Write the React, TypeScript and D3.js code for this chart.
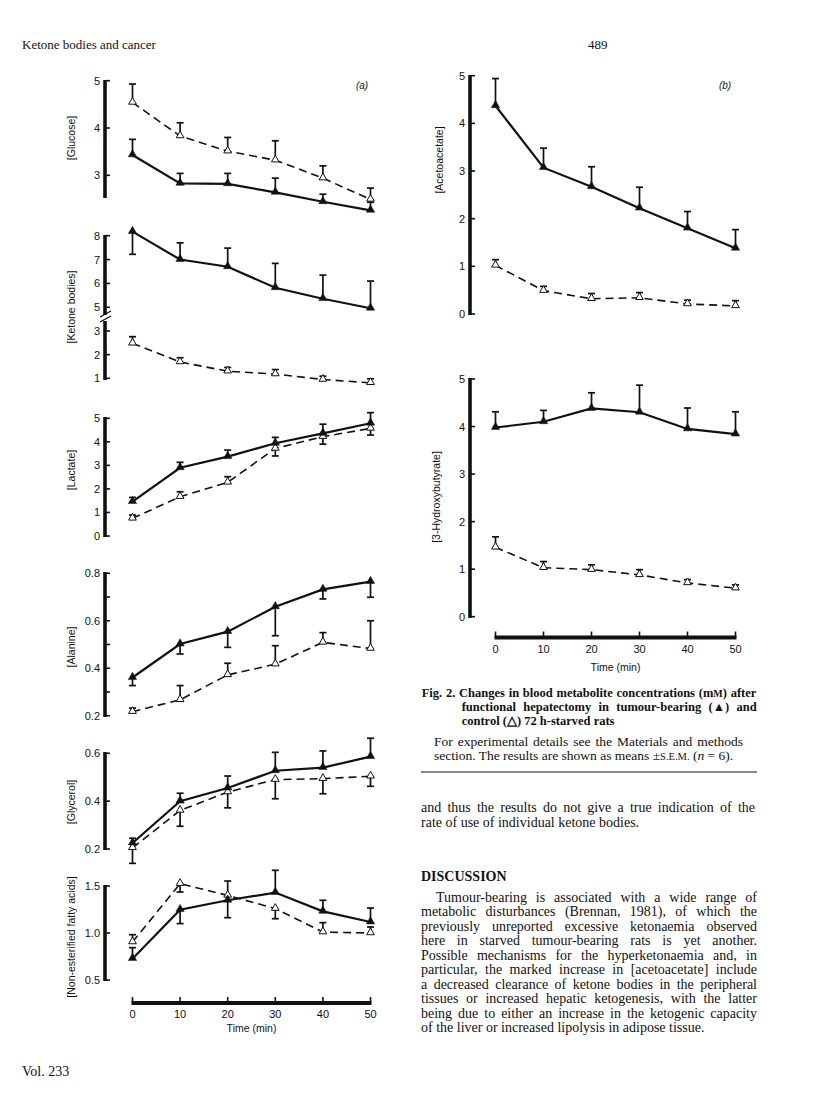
import React from "react";
import * as d3 from "d3";

const time = [0, 10, 20, 30, 40, 50];
const xTickLabels = ["0", "10", "20", "30", "40", "50"];

// (a) panels — tumour-bearing (filled) and control (open); sem with bar direction (+1 up, -1 down)
const glucoseTumour = [3.43, 2.83, 2.82, 2.64, 2.44, 2.26];
const glucoseTumourSem = [0.33, 0.21, 0.22, 0.3, 0.16, 0.17];
const glucoseTumourDir = [1, 1, 1, 1, 1, 1];
const glucoseControl = [4.54, 3.83, 3.51, 3.32, 2.94, 2.49];
const glucoseControlSem = [0.39, 0.28, 0.29, 0.41, 0.26, 0.24];
const glucoseControlDir = [1, 1, 1, 1, 1, 1];
const glucoseTicks = [5, 4, 3];

const ketoneTumour = [8.17, 7.0, 6.7, 5.82, 5.36, 4.96];
const ketoneTumourSem = [0.95, 0.7, 0.78, 1.02, 0.99, 1.14];
const ketoneTumourDir = [-1, 1, 1, 1, 1, 1];
const ketoneControl = [2.48, 1.69, 1.3, 1.18, 0.95, 0.81];
const ketoneControlSem = [0.28, 0.18, 0.16, 0.19, 0.14, 0.17];
const ketoneControlDir = [1, 1, 1, 1, 1, 1];
const ketoneTicksUpper = [8, 7, 6, 5];
const ketoneTicksLower = [3, 2, 1];

const lactateTumour = [1.46, 2.9, 3.37, 3.94, 4.36, 4.79];
const lactateTumourSem = [0.18, 0.23, 0.28, 0.25, 0.39, 0.45];
const lactateTumourDir = [1, 1, 1, 1, 1, 1];
const lactateControl = [0.75, 1.67, 2.28, 3.72, 4.22, 4.57];
const lactateControlSem = [0.14, 0.21, 0.24, 0.32, 0.32, 0.28];
const lactateControlDir = [1, 1, 1, -1, -1, -1];
const lactateTicks = [5, 4, 3, 2, 1, 0];

const alanineTumour = [0.361, 0.502, 0.554, 0.659, 0.732, 0.765];
const alanineTumourSem = [0.034, 0.042, 0.066, 0.122, 0.04, 0.066];
const alanineTumourDir = [-1, -1, -1, -1, -1, -1];
const alanineControl = [0.217, 0.267, 0.372, 0.417, 0.509, 0.483];
const alanineControlSem = [0.015, 0.06, 0.049, 0.078, 0.041, 0.117];
const alanineControlDir = [1, 1, 1, 1, 1, 1];
const alanineTicks = [0.8, 0.6, 0.4, 0.2];
const alanineMinorTicks = [0.7, 0.5, 0.3];

const glycerolTumour = [0.225, 0.4, 0.455, 0.527, 0.54, 0.586];
const glycerolTumourSem = [0.02, 0.033, 0.05, 0.077, 0.07, 0.077];
const glycerolTumourDir = [1, 1, 1, 1, 1, 1];
const glycerolControl = [0.205, 0.361, 0.438, 0.49, 0.494, 0.504];
const glycerolControlSem = [0.065, 0.066, 0.066, 0.08, 0.063, 0.042];
const glycerolControlDir = [-1, -1, -1, -1, -1, -1];
const glycerolTicks = [0.6, 0.4, 0.2];

const nefaTumour = [0.727, 1.248, 1.348, 1.43, 1.23, 1.117];
const nefaTumourSem = [0.117, 0.148, 0.185, 0.237, 0.118, 0.149];
const nefaTumourDir = [1, -1, -1, 1, 1, 1];
const nefaControl = [0.904, 1.525, 1.4, 1.26, 1.01, 1.0];
const nefaControlSem = [0.078, 0.089, 0.153, 0.108, 0.1, 0.064];
const nefaControlDir = [1, -1, 1, -1, 1, 1];
const nefaTicks = [1.5, 1.0, 0.5];

// (b) panels
const acacTumour = [4.37, 3.07, 2.67, 2.22, 1.8, 1.38];
const acacTumourSem = [0.57, 0.41, 0.42, 0.44, 0.35, 0.39];
const acacTumourDir = [1, 1, 1, 1, 1, 1];
const acacControl = [1.02, 0.49, 0.32, 0.34, 0.21, 0.17];
const acacControlSem = [0.12, 0.09, 0.11, 0.11, 0.08, 0.11];
const acacControlDir = [1, 1, 1, 1, 1, 1];
const acacTicks = [5, 4, 3, 2, 1, 0];

const hbTumour = [3.98, 4.1, 4.38, 4.3, 3.95, 3.84];
const hbTumourSem = [0.33, 0.24, 0.33, 0.57, 0.44, 0.47];
const hbTumourDir = [1, 1, 1, 1, 1, 1];
const hbControl = [1.46, 1.03, 0.99, 0.88, 0.71, 0.6];
const hbControlSem = [0.22, 0.13, 0.1, 0.11, 0.07, 0.07];
const hbControlDir = [1, 1, 1, 1, 1, 1];
const hbTicks = [5, 4, 3, 2, 1, 0];

const bodyLines = [
  "metabolic disturbances (Brennan, 1981), of which the",
  "previously unreported excessive ketonaemia observed",
  "here in starved tumour-bearing rats is yet another.",
  "Possible mechanisms for the hyperketonaemia and, in",
  "particular, the marked increase in [acetoacetate] include",
  "a decreased clearance of ketone bodies in the peripheral",
  "tissues or increased hepatic ketogenesis, with the latter",
  "being due to either an increase in the ketogenic capacity",
];

const SANS = "'Liberation Sans', Arial, sans-serif";
const SERIF = "'Liberation Serif', 'Times New Roman', serif";
const INK = "#111";
const BODY = 14;
const CAP = 12.5;

let measureCtx = null;
function wordGap(text, font, target) {
  if (typeof document === "undefined") return 0;
  if (!measureCtx) measureCtx = document.createElement("canvas").getContext("2d");
  measureCtx.font = font;
  const w = measureCtx.measureText(text).width;
  const n = (text.match(/ /g) || []).length;
  if (!n) return 0;
  return Math.max(-0.5, (target - w) / n);
}

const triFilled = d3.symbol().type(d3.symbolTriangle).size(30)();
const triOpen = d3.symbol().type(d3.symbolTriangle).size(26)();

function Series({ x, y, values, sem, dir, filled }) {
  const line = d3
    .line()
    .x((d, i) => x(time[i]))
    .y((d) => y(d));
  return (
    <g>
      <path
        d={line(values)}
        fill="none"
        stroke={INK}
        strokeWidth={filled ? 2.2 : 1.6}
        strokeDasharray={filled ? undefined : "8,5"}
      />
      {values.map((v, i) => {
        const cx = x(time[i]);
        const cy = y(v);
        const ey = y(v + dir[i] * sem[i]);
        return (
          <g key={i}>
            <line x1={cx} x2={cx} y1={cy} y2={ey} stroke={INK} strokeWidth={1.7} />
            <line x1={cx - 3.5} x2={cx + 3.5} y1={ey} y2={ey} stroke={INK} strokeWidth={1.7} />
            <path
              d={filled ? triFilled : triOpen}
              transform={`translate(${cx},${cy - 0.5})`}
              fill={filled ? INK : "#fff"}
              stroke={INK}
              strokeWidth={filled ? 0.5 : 1}
            />
          </g>
        );
      })}
    </g>
  );
}

function YAxis({ axisX, y, ticks, minor = [], top, bottom, fmt, label, labelX, labelY }) {
  return (
    <g>
      <line x1={axisX} x2={axisX} y1={top} y2={bottom} stroke={INK} strokeWidth={3.6} />
      {ticks.map((t) => (
        <g key={"t" + t}>
          <line x1={axisX} x2={axisX + 5} y1={y(t)} y2={y(t)} stroke={INK} strokeWidth={1.6} />
          <text x={axisX - 5} y={y(t) + 4} textAnchor="end" fontFamily={SANS} fontSize={11} fill={INK}>
            {fmt(t)}
          </text>
        </g>
      ))}
      {minor.map((t) => (
        <line key={"m" + t} x1={axisX} x2={axisX + 5} y1={y(t)} y2={y(t)} stroke={INK} strokeWidth={1.6} />
      ))}
      <text
        transform={`translate(${labelX},${labelY}) rotate(-90)`}
        textAnchor="middle"
        fontFamily={SANS}
        fontSize={10.5}
        fill={INK}
      >
        {label}
      </text>
    </g>
  );
}

function XAxis({ x, yPos, labelY, titleY }) {
  const [x0, x1] = [x(time[0]), x(time[time.length - 1])];
  return (
    <g>
      <line x1={x0 - 1} x2={x1 + 1} y1={yPos} y2={yPos} stroke={INK} strokeWidth={4} />
      {time.map((t, i) => (
        <g key={t}>
          <line x1={x(t)} x2={x(t)} y1={yPos} y2={yPos - 6} stroke={INK} strokeWidth={1.6} />
          <text x={x(t)} y={labelY} textAnchor="middle" fontFamily={SANS} fontSize={11} fill={INK}>
            {xTickLabels[i]}
          </text>
        </g>
      ))}
      <text x={(x0 + x1) / 2} y={titleY} textAnchor="middle" fontFamily={SANS} fontSize={10.5} fill={INK}>
        Time (min)
      </text>
    </g>
  );
}

function JText({ x, y, target, text, bold = false, size = BODY }) {
  const font = `${bold ? "bold " : ""}${size}px 'Liberation Serif'`;
  const gap = wordGap(text, font, target);
  return (
    <text x={x} y={y} fontSize={size} fontWeight={bold ? "bold" : "normal"} wordSpacing={gap}>
      {text}
    </text>
  );
}

const fmtInt = (d) => d3.format("d")(d);
const fmt1 = (d) => d3.format(".1f")(d);

export default function App() {
  // panel (a)
  const xa = d3.scaleLinear().domain([0, 50]).range([132.5, 370.5]);
  const axA = 105;
  const labA = 75;

  const yGlu = d3.scaleLinear().domain([3, 5]).range([175.3, 80.7]);
  const kUp = d3.scaleLinear().domain([5, 8]).range([307.3, 235.7]);
  const kLo = d3.scaleLinear().domain([1, 3]).range([378.3, 331]);
  const yKet = (v) => (v >= 4 ? kUp(v) : kLo(v));
  const yLac = d3.scaleLinear().domain([0, 5]).range([536, 418.3]);
  const yAla = d3.scaleLinear().domain([0.2, 0.8]).range([715.7, 573.3]);
  const yGly = d3.scaleLinear().domain([0.2, 0.6]).range([849, 753.3]);
  const yNefa = d3.scaleLinear().domain([0.5, 1.5]).range([980, 886]);

  // panel (b)
  const xb = d3.scaleLinear().domain([0, 50]).range([495.5, 735.5]);
  const axB = 470;
  const yAcac = d3.scaleLinear().domain([0, 5]).range([314, 75.7]);
  const yHb = d3.scaleLinear().domain([0, 5]).range([616.7, 379]);

  const capFont = `bold ${CAP}px 'Liberation Serif'`;
  const cap1 = "Fig. 2. Changes in blood metabolite concentrations (mM) after";
  const cap1Gap = wordGap(cap1, capFont, 337);
  const cap2 = "functional hepatectomy in tumour-bearing (▲) and";
  const cap2Gap = wordGap(cap2, capFont, 295);

  return (
    <svg
      width={816}
      height={1097}
      viewBox="0 0 816 1097"
      style={{ position: "absolute", left: 0, top: 0, background: "#fff" }}
    >
      <rect x={0} y={0} width={816} height={1097} fill="#fff" />
      {/* page header / footer */}
      <text x={22} y={49} fontFamily={SERIF} fontSize={13} fill={INK}>
        Ketone bodies and cancer
      </text>
      <text x={588} y={49} fontFamily={SERIF} fontSize={13} fill={INK}>
        489
      </text>
      <text x={22} y={1076} fontFamily={SERIF} fontSize={14} fill={INK}>
        Vol. 233
      </text>

      {/* (a) */}
      <text x={362} y={89} textAnchor="middle" fontFamily={SANS} fontSize={10} fontStyle="italic" fill={INK}>
        (a)
      </text>

      <YAxis axisX={axA} y={yGlu} ticks={glucoseTicks} top={80} bottom={198} fmt={fmtInt} label="[Glucose]" labelX={labA} labelY={138} />
      <Series x={xa} y={yGlu} values={glucoseControl} sem={glucoseControlSem} dir={glucoseControlDir} filled={false} />
      <Series x={xa} y={yGlu} values={glucoseTumour} sem={glucoseTumourSem} dir={glucoseTumourDir} filled={true} />

      {/* ketone bodies with broken axis */}
      <line x1={axA} x2={axA} y1={235} y2={315} stroke={INK} strokeWidth={3.6} />
      <line x1={axA} x2={axA} y1={321} y2={380} stroke={INK} strokeWidth={3.6} />
      <line x1={100} x2={111} y1={317} y2={311} stroke={INK} strokeWidth={1.3} />
      <line x1={100} x2={111} y1={322} y2={316} stroke={INK} strokeWidth={1.3} />
      {ketoneTicksUpper.map((t) => (
        <g key={"ku" + t}>
          <line x1={axA} x2={axA + 5} y1={kUp(t)} y2={kUp(t)} stroke={INK} strokeWidth={1.6} />
          <text x={axA - 5} y={kUp(t) + 4} textAnchor="end" fontFamily={SANS} fontSize={11} fill={INK}>
            {fmtInt(t)}
          </text>
        </g>
      ))}
      {ketoneTicksLower.map((t) => (
        <g key={"kl" + t}>
          <line x1={axA} x2={axA + 5} y1={kLo(t)} y2={kLo(t)} stroke={INK} strokeWidth={1.6} />
          <text x={axA - 5} y={kLo(t) + 4} textAnchor="end" fontFamily={SANS} fontSize={11} fill={INK}>
            {fmtInt(t)}
          </text>
        </g>
      ))}
      <text transform={`translate(${labA},307) rotate(-90)`} textAnchor="middle" fontFamily={SANS} fontSize={10.5} fill={INK}>
        [Ketone bodies]
      </text>
      <Series x={xa} y={yKet} values={ketoneControl} sem={ketoneControlSem} dir={ketoneControlDir} filled={false} />
      <Series x={xa} y={yKet} values={ketoneTumour} sem={ketoneTumourSem} dir={ketoneTumourDir} filled={true} />

      <YAxis axisX={axA} y={yLac} ticks={lactateTicks} top={417} bottom={537} fmt={fmtInt} label="[Lactate]" labelX={labA} labelY={470} />
      <Series x={xa} y={yLac} values={lactateControl} sem={lactateControlSem} dir={lactateControlDir} filled={false} />
      <Series x={xa} y={yLac} values={lactateTumour} sem={lactateTumourSem} dir={lactateTumourDir} filled={true} />

      <YAxis axisX={axA} y={yAla} ticks={alanineTicks} minor={alanineMinorTicks} top={572} bottom={717} fmt={fmt1} label="[Alanine]" labelX={labA} labelY={647} />
      <Series x={xa} y={yAla} values={alanineControl} sem={alanineControlSem} dir={alanineControlDir} filled={false} />
      <Series x={xa} y={yAla} values={alanineTumour} sem={alanineTumourSem} dir={alanineTumourDir} filled={true} />

      <YAxis axisX={axA} y={yGly} ticks={glycerolTicks} top={752} bottom={850} fmt={fmt1} label="[Glycerol]" labelX={labA} labelY={802} />
      <Series x={xa} y={yGly} values={glycerolControl} sem={glycerolControlSem} dir={glycerolControlDir} filled={false} />
      <Series x={xa} y={yGly} values={glycerolTumour} sem={glycerolTumourSem} dir={glycerolTumourDir} filled={true} />

      <YAxis axisX={axA} y={yNefa} ticks={nefaTicks} top={885} bottom={981} fmt={fmt1} label="[Non-esterified fatty acids]" labelX={labA} labelY={937} />
      <Series x={xa} y={yNefa} values={nefaControl} sem={nefaControlSem} dir={nefaControlDir} filled={false} />
      <Series x={xa} y={yNefa} values={nefaTumour} sem={nefaTumourSem} dir={nefaTumourDir} filled={true} />

      <XAxis x={xa} yPos={1003} labelY={1018} titleY={1032} />

      {/* (b) */}
      <text x={725} y={89} textAnchor="middle" fontFamily={SANS} fontSize={10} fontStyle="italic" fill={INK}>
        (b)
      </text>
      <YAxis axisX={axB} y={yAcac} ticks={acacTicks} top={75} bottom={315} fmt={fmtInt} label="[Acetoacetate]" labelX={443} labelY={160} />
      <Series x={xb} y={yAcac} values={acacControl} sem={acacControlSem} dir={acacControlDir} filled={false} />
      <Series x={xb} y={yAcac} values={acacTumour} sem={acacTumourSem} dir={acacTumourDir} filled={true} />

      <YAxis axisX={axB} y={yHb} ticks={hbTicks} top={378} bottom={618} fmt={fmtInt} label="[3-Hydroxybutyrate]" labelX={440} labelY={497} />
      <Series x={xb} y={yHb} values={hbControl} sem={hbControlSem} dir={hbControlDir} filled={false} />
      <Series x={xb} y={yHb} values={hbTumour} sem={hbTumourSem} dir={hbTumourDir} filled={true} />

      <XAxis x={xb} yPos={637.5} labelY={653} titleY={671} />

      {/* caption */}
      <g fontFamily={SERIF} fill={INK}>
        <text x={421.7} y={697} fontSize={CAP} fontWeight="bold" wordSpacing={cap1Gap}>
          Fig. 2. Changes in blood metabolite concentrations (m<tspan fontSize={10}>M</tspan>) after
        </text>
        <text x={461.7} y={711} fontSize={CAP} fontWeight="bold" wordSpacing={cap2Gap}>
          {cap2}
        </text>
        <text x={461.7} y={725} fontSize={CAP} fontWeight="bold">
          control (△) 72 h-starved rats
        </text>
        <JText x={434} y={746} target={309} size={13.5} text="For experimental details see the Materials and methods" />
        <text x={434} y={760} fontSize={13.5}>
          section. The results are shown as means ±<tspan fontSize={10.5}>S.E.M.</tspan> (<tspan fontStyle="italic">n</tspan> = 6).
        </text>
      </g>
      <line x1={421} x2={757} y1={772} y2={772} stroke={INK} strokeWidth={1.2} />

      {/* body text */}
      <g fontFamily={SERIF} fill={INK}>
        <JText x={421} y={812} target={334} text="and thus the results do not give a true indication of the" />
        <text x={421} y={827} fontSize={BODY}>rate of use of individual ketone bodies.</text>
        <text x={421} y={881} fontSize={BODY} fontWeight="bold">DISCUSSION</text>
        <JText x={436} y={902} target={321} text="Tumour-bearing is associated with a wide range of" />
        {bodyLines.map((s, i) => (
          <JText key={i} x={421} y={902 + 14.45 * (i + 1)} target={336} text={s} />
        ))}
        <text x={421} y={902 + 14.45 * 9} fontSize={BODY}>
          of the liver or increased lipolysis in adipose tissue.
        </text>
      </g>
    </svg>
  );
}
